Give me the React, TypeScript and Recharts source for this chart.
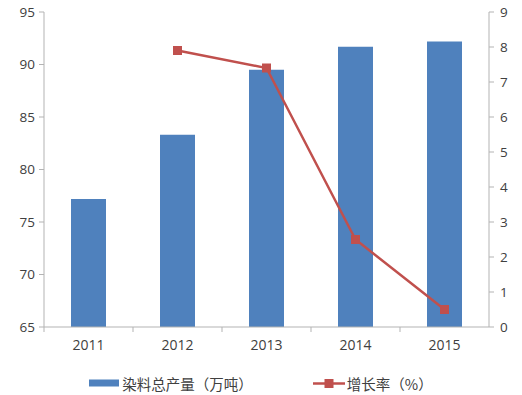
import React from 'react';
import {
  ComposedChart,
  Bar,
  Line,
  XAxis,
  YAxis,
  Legend,
} from 'recharts';

const years = ['2011', '2012', '2013', '2014', '2015'];
const output = [77.2, 83.3, 89.5, 91.7, 92.2];
const growth: (number | null)[] = [null, 7.9, 7.4, 2.5, 0.5];
const leftTicks = [65, 70, 75, 80, 85, 90, 95];
const rightTicks = [0, 1, 2, 3, 4, 5, 6, 7, 8, 9];

const BAR = '#4f81bd';
const LINE = '#c0504d';
const AXIS = '#b3b3b3';
const TEXT = '#404040';
const FONT = '"Open Sans", "Noto Sans CJK SC", sans-serif';
const CJK = '"Noto Sans CJK SC", sans-serif';

const W = 522;
const H = 395;
const LEFT_W = 44;
const RIGHT_W = 33;
const HALF_BAND = (W - LEFT_W - RIGHT_W) / years.length / 2;

const data = years.map((y, i) => ({ year: y, output: output[i], growth: growth[i] }));

function XTick(props: any) {
  const { x, y, payload } = props;
  return (
    <g>
      <line x1={x - HALF_BAND} y1={y - 8} x2={x - HALF_BAND} y2={y - 3} stroke={AXIS} />
      <text x={x} y={y + 15} textAnchor="middle" fill={TEXT} fontSize={14} fontFamily={FONT}>
        {payload.value}
      </text>
    </g>
  );
}

function SquareDot(props: any) {
  const { cx, cy, value } = props;
  if (value == null || cx == null || cy == null) return <g />;
  return <rect x={cx - 4.5} y={cy - 4.5} width={9} height={9} fill={LINE} />;
}

function LegendBox() {
  return (
    <div
      style={{
        display: 'flex',
        justifyContent: 'center',
        alignItems: 'center',
        height: 28,
        paddingTop: 4,
        boxSizing: 'border-box',
        fontFamily: CJK,
        fontSize: 14.5,
        color: TEXT,
      }}
    >
      <svg width={30} height={10} style={{ marginRight: 3 }}>
        <rect x={0} y={1.5} width={30} height={7} fill={BAR} />
      </svg>
      <span style={{ marginRight: 60 }}>染料总产量（万吨）</span>
      <svg width={32} height={11} style={{ marginRight: 2 }}>
        <line x1={0} y1={5.5} x2={32} y2={5.5} stroke={LINE} strokeWidth={2.5} />
        <rect x={11.5} y={1} width={9} height={9} fill={LINE} />
      </svg>
      <span>增长率（%）</span>
    </div>
  );
}

export default function App() {
  return (
    <div style={{ position: 'absolute', left: 0, top: 0, width: W, height: H, background: '#fff' }}>
      <ComposedChart
        width={W}
        height={H}
        data={data}
        margin={{ top: 12, right: 0, left: 0, bottom: 0 }}
      >
        <XAxis
          dataKey="year"
          height={40}
          stroke={AXIS}
          tickLine={false}
          tick={<XTick />}
          interval={0}
        />
        <YAxis
          yAxisId="left"
          domain={[65, 95]}
          ticks={leftTicks}
          width={LEFT_W}
          stroke={AXIS}
          tickSize={5}
          tickMargin={4}
          tick={{ fill: TEXT, fontSize: 13.5, fontFamily: FONT }}
          interval={0}
        />
        <YAxis
          yAxisId="right"
          orientation="right"
          domain={[0, 9]}
          ticks={rightTicks}
          width={RIGHT_W}
          stroke={AXIS}
          tickSize={5}
          tickMargin={6}
          tick={{ fill: TEXT, fontSize: 13.5, fontFamily: FONT }}
          interval={0}
        />
        <Legend verticalAlign="bottom" height={28} content={() => <LegendBox />} />
        <Bar
          yAxisId="left"
          dataKey="output"
          fill={BAR}
          barSize={35}
          isAnimationActive={false}
        />
        <Line
          yAxisId="right"
          dataKey="growth"
          stroke={LINE}
          strokeWidth={2.5}
          dot={<SquareDot />}
          activeDot={false}
          connectNulls={false}
          isAnimationActive={false}
        />
      </ComposedChart>
    </div>
  );
}
